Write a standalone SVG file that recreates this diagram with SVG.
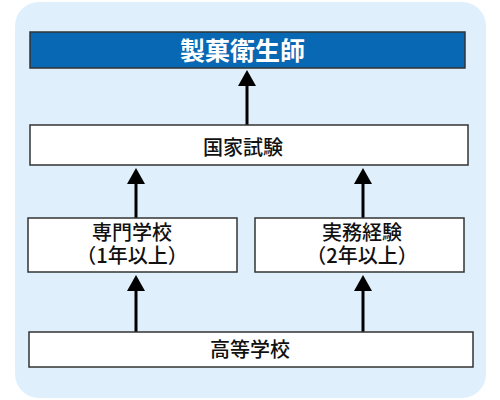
<svg xmlns="http://www.w3.org/2000/svg" width="500" height="400" viewBox="0 0 500 400">
<style>
.box{fill:#ffffff;stroke:#333333;stroke-width:1.5}
.t{font-family:"Noto Sans CJK JP","Noto Sans CJK SC",sans-serif;font-size:20px;font-weight:500;fill:#111111;text-anchor:middle}
.line{stroke:#000000;stroke-width:3;fill:none}
.head{fill:#000000}
</style>
<rect x="15" y="2" width="471" height="396" rx="24" fill="#dff0fc"/>
<g id="connectors">
<line class="line" x1="247" y1="125" x2="247" y2="86"/>
<path class="head" d="M238,86 L247,70 L256,86 Z"/>
<line class="line" x1="136" y1="218" x2="136" y2="184"/>
<path class="head" d="M127,184 L136,168 L145,184 Z"/>
<line class="line" x1="363" y1="218" x2="363" y2="184"/>
<path class="head" d="M354,184 L363,168 L372,184 Z"/>
<line class="line" x1="136" y1="332" x2="136" y2="291"/>
<path class="head" d="M127,291 L136,275 L145,291 Z"/>
<line class="line" x1="363" y1="332" x2="363" y2="291"/>
<path class="head" d="M354,291 L363,275 L372,291 Z"/>
</g>
<g id="title">
<rect x="30" y="32" width="435" height="36" fill="#0868b4" stroke="#333333" stroke-width="1.5"/>
<text x="242.5" y="60" font-family="Noto Sans CJK JP,sans-serif" font-size="25" font-weight="bold" fill="#ffffff" text-anchor="middle">製菓衛生師</text>
</g>
<g id="exam">
<rect class="box" x="30" y="125" width="438" height="40"/>
<text class="t" x="243" y="155" font-size="23">国家試験</text>
</g>
<g id="school">
<rect class="box" x="28" y="218" width="209" height="54"/>
<text class="t"><tspan x="132" y="240">専門学校</tspan><tspan x="132" y="263">（1年以上）</tspan></text>
</g>
<g id="practice">
<rect class="box" x="255" y="218" width="209" height="54"/>
<text class="t"><tspan x="362" y="240">実務経験</tspan><tspan x="362" y="263">（2年以上）</tspan></text>
</g>
<g id="highschool">
<rect class="box" x="29" y="332" width="444" height="35"/>
<text class="t" x="250" y="357">高等学校</text>
</g>
</svg>
